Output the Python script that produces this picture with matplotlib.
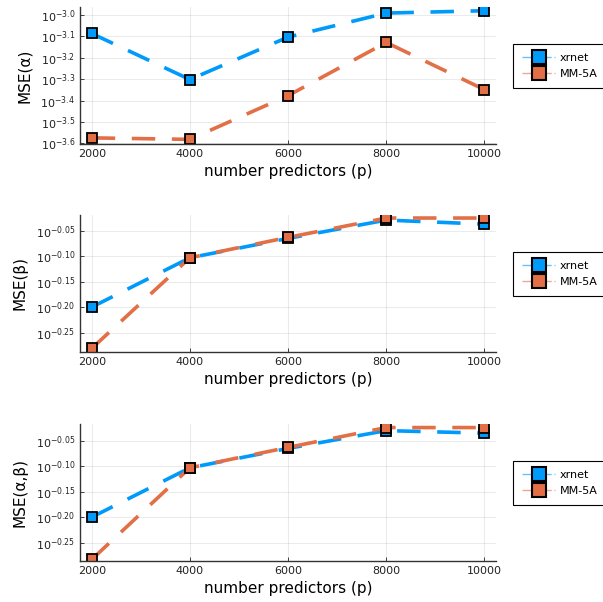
import numpy as np
import matplotlib
matplotlib.use('Agg')
import matplotlib.pyplot as plt
from matplotlib.colors import to_rgba
from matplotlib.lines import Line2D
from matplotlib.ticker import FixedLocator, FixedFormatter, NullLocator

plt.rcParams['font.family'] = 'DejaVu Sans'
plt.rcParams['mathtext.fontset'] = 'dejavusans'

# data (log10 of MSE)
p = [2000, 4000, 6000, 8000, 10000]
alpha_xrnet = [-3.087, -3.302, -3.104, -2.992, -2.981]
alpha_mm5a = [-3.574, -3.581, -3.377, -3.129, -3.349]
beta_xrnet = [-0.200, -0.103, -0.065, -0.029, -0.037]
beta_mm5a = [-0.281, -0.103, -0.063, -0.025, -0.025]
ab_xrnet = [-0.200, -0.103, -0.065, -0.030, -0.035]
ab_mm5a = [-0.283, -0.103, -0.063, -0.024, -0.024]

series_names = ['xrnet', 'MM-5A']
colors = ['#009AFA', '#E26F46']

panels = [
    ('MSE(α)', alpha_xrnet, alpha_mm5a, [-3.6, -3.5, -3.4, -3.3, -3.2, -3.1, -3.0], (-3.602, -2.963), '{:.1f}'),
    ('MSE(β)', beta_xrnet, beta_mm5a, [-0.25, -0.20, -0.15, -0.10, -0.05], (-0.288, -0.019), '{:.2f}'),
    ('MSE(α,β)', ab_xrnet, ab_mm5a, [-0.25, -0.20, -0.15, -0.10, -0.05], (-0.286, -0.017), '{:.2f}'),
]
bottoms = [0.761, 0.4153, 0.0681]

fig = plt.figure(figsize=(6.03, 6.02), dpi=100)

for (ylabel, s1, s2, ticks, lim, fmt), b in zip(panels, bottoms):
    ax = fig.add_axes([0.1327, b, 0.690, 0.2276])
    for vals, name, c in zip([s1, s2], series_names, colors):
        ax.plot(p, 10 ** np.array(vals), color=c, lw=2.6, dashes=(6.5, 4.6),
                marker='s', markersize=7.5, markerfacecolor=c,
                markeredgecolor='black', markeredgewidth=1.3, label=name)
    ax.set_yscale('log')
    ax.set_ylim(10 ** lim[0], 10 ** lim[1])
    ax.set_xlim(1762, 10238)
    ax.yaxis.set_major_locator(FixedLocator([10 ** t for t in ticks]))
    ax.yaxis.set_major_formatter(FixedFormatter([r'$10^{' + fmt.format(t) + '}$' for t in ticks]))
    ax.yaxis.set_minor_locator(NullLocator())
    ax.set_xticks(p)
    ax.set_xticklabels([str(v) for v in p])
    ax.tick_params(direction='in', length=3, width=0.6, labelsize=8, colors='#222222')
    ax.grid(True, color='black', alpha=0.08, lw=0.8)
    ax.spines['top'].set_visible(False)
    ax.spines['right'].set_visible(False)
    for s in ['left', 'bottom']:
        ax.spines[s].set_linewidth(1.0)
        ax.spines[s].set_color('#333333')
    ax.set_xlabel('number predictors (p)', fontsize=11, labelpad=4)
    ax.set_ylabel(ylabel, fontsize=11, labelpad=6)

    handles = [Line2D([], [], color=to_rgba(c, 0.6), lw=1.0, dashes=(8, 2, 1, 2),
                      marker='s', markersize=10, markerfacecolor=c,
                      markeredgecolor='black', markeredgewidth=1.5)
               for c in colors]
    leg = ax.legend(handles, series_names, loc='upper left', bbox_to_anchor=(1.041, 0.73),
                    fontsize=8, handlelength=3.0, handletextpad=0.4, borderpad=0.8,
                    labelspacing=0.55, fancybox=False, framealpha=1,
                    edgecolor='black', borderaxespad=0)
    leg.get_frame().set_linewidth(0.8)

fig.savefig('out.png', dpi=100)
